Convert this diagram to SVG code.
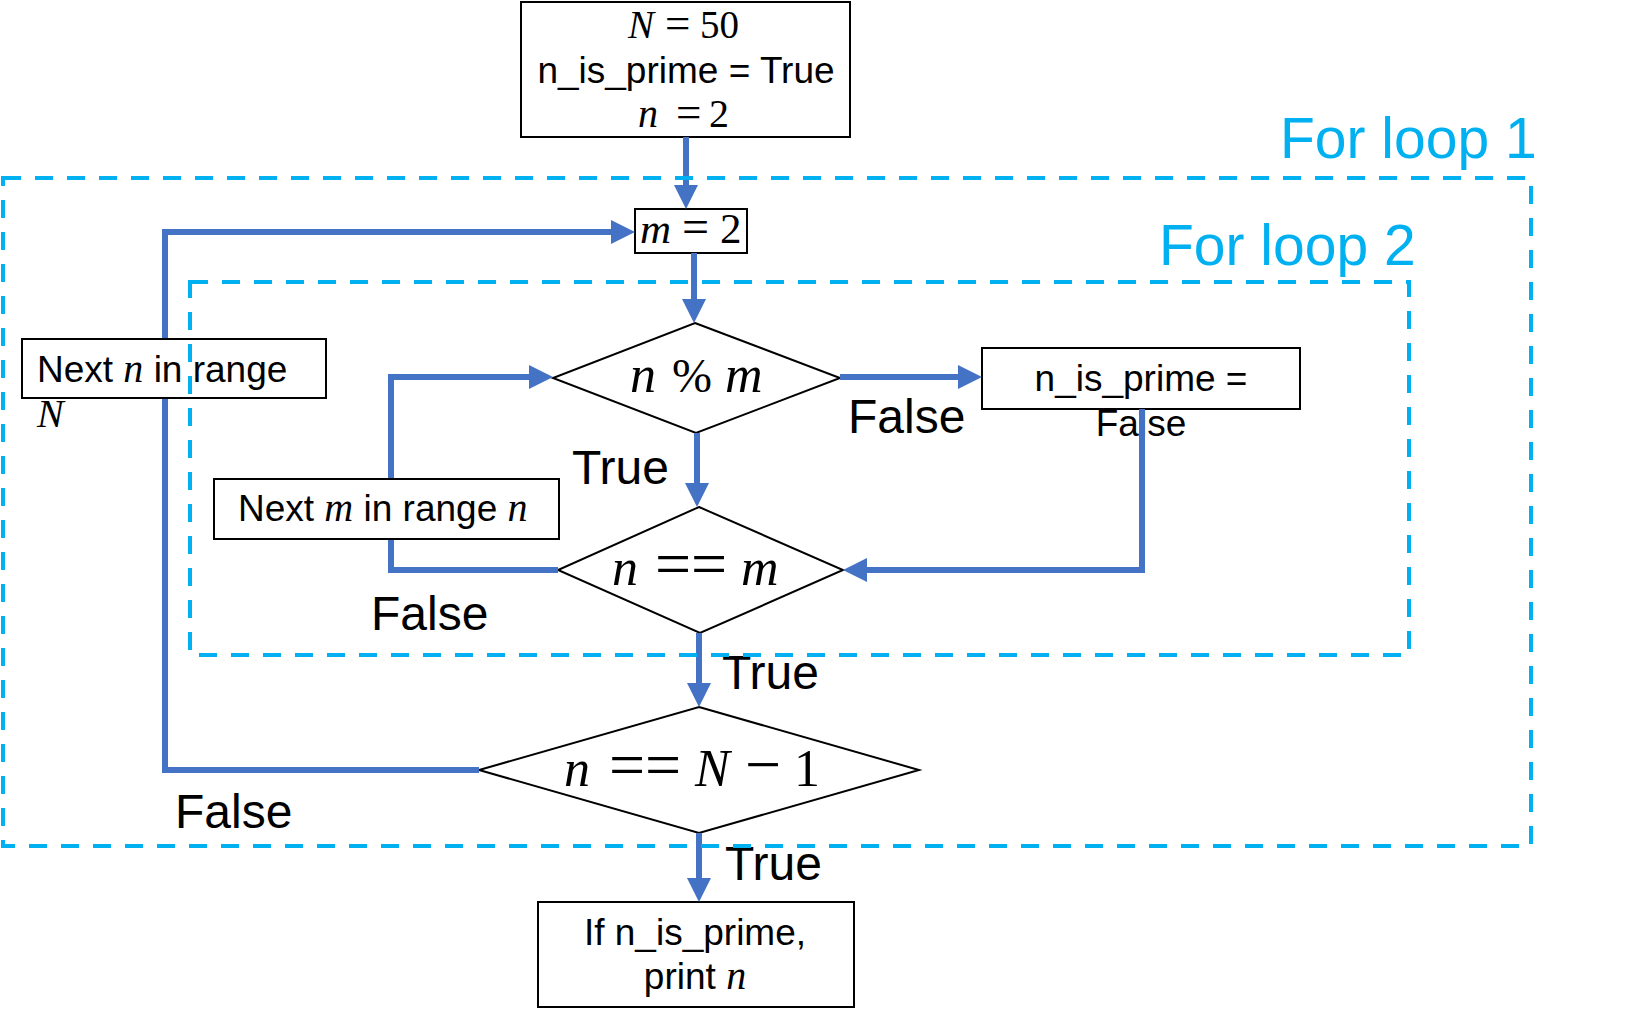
<svg xmlns="http://www.w3.org/2000/svg" width="1652" height="1023" viewBox="0 0 1652 1023">
<defs>
<marker id="ah" viewBox="0 0 24 24" refX="0" refY="12" markerWidth="24" markerHeight="24" markerUnits="userSpaceOnUse" orient="auto">
<path d="M0,0 L24,12 L0,24 Z" fill="#4472C4"/>
</marker>
<style>
.box{fill:#fff;stroke:#000;stroke-width:2}
.dia{fill:#fff;stroke:#000;stroke-width:2}
.con{fill:none;stroke:#4472C4;stroke-width:6}
.loop{fill:none;stroke:#00B0F0;stroke-width:4;stroke-dasharray:18 14}
.t{font-family:"Liberation Sans",Arial,sans-serif;font-size:37px;fill:#000}
.lbl{font-family:"Liberation Sans",Arial,sans-serif;font-size:48px;fill:#000}
.ttl{font-family:"Liberation Sans",Arial,sans-serif;font-size:57px;fill:#00B0F0}
.m{font-family:"Liberation Serif","Times New Roman",serif;fill:#000}
.i{font-style:italic}
</style>
</defs>
<rect width="1652" height="1023" fill="#fff"/>

<g id="nodes">
<g id="init">
<rect class="box" x="521" y="2" width="329" height="135"/>
<text class="m" font-size="39" y="38"><tspan class="i" x="628">N</tspan><tspan x="665" font-size="45">=</tspan><tspan x="700">50</tspan></text>
<text class="t" x="686" y="83" text-anchor="middle">n_is_prime = True</text>
<text class="m" font-size="40" y="127"><tspan class="i" x="638">n</tspan><tspan x="676" font-size="45">=</tspan><tspan x="709">2</tspan></text>
</g>
<g id="m-init">
<rect class="box" x="635" y="209" width="112" height="44"/>
<text class="m" font-size="43" y="243"><tspan class="i" x="640">m</tspan><tspan x="682" font-size="48">=</tspan><tspan x="720">2</tspan></text>
</g>
<g id="mod">
<polygon class="dia" points="695,323 840,378 696,433 553,378"/>
<text class="m" font-size="52" y="392"><tspan class="i" x="630">n</tspan><tspan x="672" font-size="48">%</tspan><tspan class="i" x="725">m</tspan></text>
</g>
<g id="set-false">
<rect class="box" x="982" y="348" width="318" height="61"/>
<text class="t" x="1141" y="391" text-anchor="middle">n_is_prime =</text>
<text class="t" x="1141" y="436" text-anchor="middle">False</text>
</g>
<g id="eq-m">
<polygon class="dia" points="699,507 843,570 700,633 558,570"/>
<text class="m" font-size="52" y="585"><tspan class="i" x="612">n</tspan><tspan x="655" font-size="64">==</tspan><tspan class="i" x="741">m</tspan></text>
</g>
<g id="eq-N">
<polygon class="dia" points="699,707 919,770 699,833 479,770"/>
<text class="m" font-size="52" y="786"><tspan class="i" x="564">n</tspan><tspan x="609" font-size="64">==</tspan><tspan class="i" x="695">N</tspan><tspan x="745" font-size="64">−</tspan><tspan x="794">1</tspan></text>
</g>
<g id="print">
<rect class="box" x="538" y="902" width="316" height="105"/>
<text class="t" x="695" y="945" text-anchor="middle">If n_is_prime,</text>
<text class="t" x="695" y="989" text-anchor="middle">print <tspan class="m i" font-size="40">n</tspan></text>
</g>
</g>

<g id="connectors">
<path class="con" marker-end="url(#ah)" d="M686,137 V185"/>
<path class="con" marker-end="url(#ah)" d="M694,253 V299"/>
<path class="con" marker-end="url(#ah)" d="M840,377 H958"/>
<path class="con" marker-end="url(#ah)" d="M1142,409 V570 H867"/>
<path class="con" marker-end="url(#ah)" d="M697,433 V483"/>
<path class="con" marker-end="url(#ah)" d="M558,570 H391 V377 H529"/>
<path class="con" marker-end="url(#ah)" d="M699,633 V683"/>
<path class="con" marker-end="url(#ah)" d="M479,770 H165 V232 H611"/>
<path class="con" marker-end="url(#ah)" d="M699,833 V878"/>
<text class="lbl" x="848" y="433">False</text>
<text class="lbl" x="572" y="484">True</text>
<text class="lbl" x="371" y="630">False</text>
<text class="lbl" x="722" y="689">True</text>
<text class="lbl" x="175" y="828">False</text>
<text class="lbl" x="725" y="880">True</text>
</g>

<g id="next-m">
<rect class="box" x="214" y="479" width="345" height="60"/>
<text class="t" x="238" y="521">Next <tspan class="m i" font-size="40">m</tspan> in range <tspan class="m i" font-size="40">n</tspan></text>
</g>

<g id="next-n">
<rect class="box" x="22" y="339" width="304" height="59"/>
<text class="t" x="37" y="382">Next <tspan class="m i" font-size="40">n</tspan> in range</text>
<text class="m i" font-size="40" x="37" y="427">N</text>
</g>

<g id="loops">
<g id="loop1">
<rect class="loop" x="3" y="178" width="1528" height="668"/>
<text class="ttl" x="1280" y="158">For loop 1</text>
</g>
<g id="loop2">
<rect class="loop" x="190" y="282" width="1219" height="373"/>
<text class="ttl" x="1159" y="265">For loop 2</text>
</g>
</g>
</svg>
